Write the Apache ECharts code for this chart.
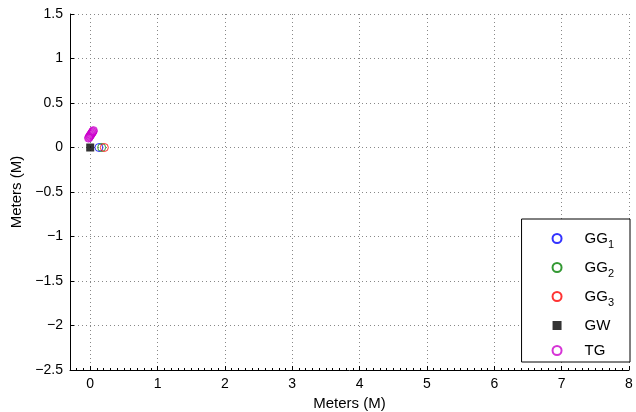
<!DOCTYPE html>
<html>
<head>
<meta charset="utf-8">
<script src="https://cdn.jsdelivr.net/npm/echarts@6/dist/echarts.min.js"></script>
<style>
  html, body { margin: 0; padding: 0; background: #fff; }
  #chart { width: 636px; height: 412px; }
</style>
</head>
<body>
<div id="chart"></div>
<script>
// Receiver positions (metres)
const gg1X = [0.13], gg1Y = [0];
const gg2X = [0.17], gg2Y = [0];
const gg3X = [0.21], gg3Y = [0];
const gwX = [0], gwY = [0];
const tgX = [-0.025, -0.018, -0.012, -0.006, 0.0, 0.006, 0.012, 0.018, 0.024, 0.03, 0.036, 0.042, 0.048];
const tgY = [0.105, 0.112, 0.12, 0.127, 0.134, 0.141, 0.148, 0.155, 0.162, 0.169, 0.176, 0.183, 0.19];

// Axis ticks
const xTicks = [0, 1, 2, 3, 4, 5, 6, 7, 8];
const yTicks = [-2.5, -2, -1.5, -1, -0.5, 0, 0.5, 1, 1.5];
const xMin = -0.3, xMax = 8;

const FONT = '"Liberation Sans", Arial, sans-serif';
const zip = (xs, ys) => xs.map((x, i) => [x, ys[i]]);
const fmt = v => String(v).replace('-', '\u2212');

const chart = echarts.init(document.getElementById('chart'), null, { renderer: 'canvas' });

const gridLine = { show: true, lineStyle: { color: '#888', type: [1, 3], width: 1 } };
const ring = c => ({ color: 'rgba(0,0,0,0)', borderColor: c, borderWidth: 1 });

chart.setOption({
  animation: false,
  backgroundColor: '#fff',
  grid: { left: 70, right: 7, top: 14, bottom: 42, containLabel: false, outerBoundsMode: 'none' },
  xAxis: [
    {
      type: 'value', min: xMin, max: xMax,
      name: 'Meters (M)', nameLocation: 'middle', nameGap: 21,
      nameTextStyle: { fontFamily: FONT, fontSize: 15, color: '#000' },
      axisLine: { show: true, onZero: false, lineStyle: { color: '#000', width: 1 } },
      axisTick: { show: true, inside: true, length: 4, customValues: xTicks, lineStyle: { color: '#000' } },
      axisLabel: { customValues: xTicks, formatter: fmt, fontFamily: FONT, fontSize: 14, color: '#000', margin: 7 },
      splitLine: gridLine
    },
    {
      // minor ticks along the bottom edge
      type: 'value', min: xMin, max: xMax, interval: 0.1, position: 'bottom',
      axisLine: { show: false, onZero: false },
      axisTick: { show: true, inside: true, length: 2, lineStyle: { color: '#000' } },
      axisLabel: { show: false },
      splitLine: { show: false }
    }
  ],
  yAxis: {
    type: 'value', min: yTicks[0], max: yTicks[yTicks.length - 1], interval: 0.5,
    name: 'Meters (M)', nameLocation: 'middle', nameGap: 45,
    nameTextStyle: { fontFamily: FONT, fontSize: 15, color: '#000' },
    axisLine: { show: true, onZero: false, lineStyle: { color: '#000', width: 1 } },
    axisTick: { show: true, inside: true, length: 4, lineStyle: { color: '#000' } },
    axisLabel: { formatter: fmt, fontFamily: FONT, fontSize: 14, color: '#000', margin: 7 },
    splitLine: gridLine
  },
  legend: {
    orient: 'vertical',
    right: 6, top: 219,
    backgroundColor: '#fff',
    borderColor: '#000', borderWidth: 1, borderRadius: 0,
    padding: [12, 16, 4, 30],
    itemWidth: 9, itemHeight: 9,
    itemGap: 10,
    textStyle: {
      fontFamily: FONT, fontSize: 15, color: '#000', padding: [0, 0, 0, 18],
      rich: {
        n: { fontFamily: FONT, fontSize: 15, color: '#000' },
        s: { fontFamily: FONT, fontSize: 11, color: '#000', padding: [12, 0, 0, 0] }
      }
    },
    formatter: name => {
      const m = name.match(/^(GG)(\d)$/);
      return m ? '{n|' + m[1] + '}{s|' + m[2] + '}' : '{n|' + name + '}';
    },
    data: ['GG1', 'GG2', 'GG3', 'GW', 'TG']
  },
  series: [
    { name: 'GG1', type: 'scatter', symbol: 'circle', symbolSize: 8,
      itemStyle: ring('#0000ff'), data: zip(gg1X, gg1Y) },
    { name: 'GG2', type: 'scatter', symbol: 'circle', symbolSize: 8,
      itemStyle: ring('#008000'), data: zip(gg2X, gg2Y) },
    { name: 'GG3', type: 'scatter', symbol: 'circle', symbolSize: 8,
      itemStyle: ring('#ff0000'), data: zip(gg3X, gg3Y) },
    { name: 'GW', type: 'scatter', symbol: 'rect', symbolSize: 8,
      itemStyle: { color: '#000000' }, data: zip(gwX, gwY) },
    { name: 'TG', type: 'scatter', symbol: 'circle', symbolSize: 8,
      itemStyle: ring('#cc00cc'), data: zip(tgX, tgY) }
  ]
});
</script>
</body>
</html>
